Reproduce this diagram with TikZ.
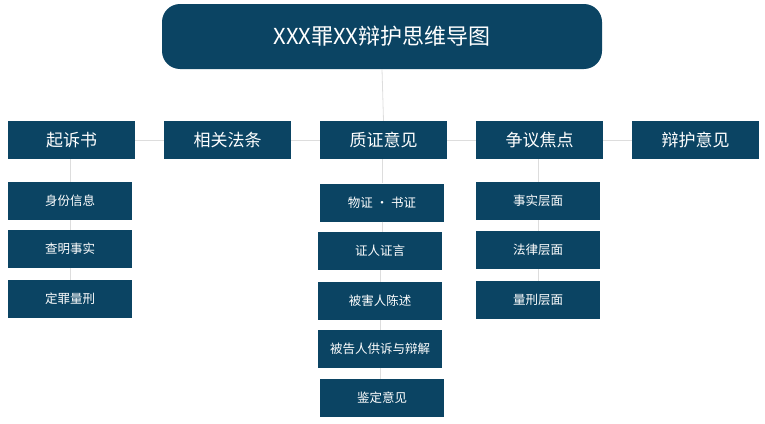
\documentclass[tikz,border=0pt]{standalone}
\usepackage{fontspec}
\setmainfont{Noto Sans CJK SC}
\begin{document}
\begin{tikzpicture}[x=1pt,y=-1pt,
  bx/.style={fill=boxc,text=white,inner sep=0pt},
  top/.style={bx,minimum width=127pt,minimum height=38pt,font=\fontsize{17}{20}\selectfont},
  sub/.style={bx,minimum width=124pt,minimum height=38pt,font=\fontsize{12.5}{15}\selectfont},
  ln/.style={draw=linec,line width=0.8pt}]
\definecolor{boxc}{HTML}{0B4463}
\definecolor{linec}{HTML}{DDDDDD}
\useasboundingbox (0,0) rectangle (765,423);
\node[bx,rounded corners=18pt,minimum width=440pt,minimum height=65pt,font=\fontsize{22}{26}\selectfont] (t) at (382,36.5) {XXX罪XX辩护思维导图};
\node[top] (a) at (71.5,140) {起诉书};
\node[top] (b) at (227.5,140) {相关法条};
\node[top] (c) at (383.5,140) {质证意见};
\node[top] (d) at (539.5,140) {争议焦点};
\node[top] (e) at (695.5,140) {辩护意见};
\node[sub] (a1) at (70,201) {身份信息};
\node[sub] (a2) at (70,249) {查明事实};
\node[sub] (a3) at (70,299) {定罪量刑};
\node[sub] (c1) at (382,202.5) {物证 · 书证};
\node[sub] (c2) at (380,251) {证人证言};
\node[sub] (c3) at (380,301) {被害人陈述};
\node[sub] (c4) at (380,349) {被告人供诉与辩解};
\node[sub] (c5) at (382,398) {鉴定意见};
\node[sub] (d1) at (538,201) {事实层面};
\node[sub] (d2) at (538,250) {法律层面};
\node[sub] (d3) at (538,300) {量刑层面};
\begin{scope}[on background layer/.style={}]
\end{scope}
\begin{pgfonlayer}{main}\end{pgfonlayer}
\draw[ln] (t.south) -- (c.north);
\draw[ln] (a.east) -- (b.west) (b.east) -- (c.west) (c.east) -- (d.west) (d.east) -- (e.west);
\draw[ln] (a.south -| a1) -- (a1.north) (a1.south) -- (a2.north) (a2.south) -- (a3.north);
\draw[ln] (c.south -| c1) -- (c1.north) (c1.south) -- (c2.north -| c1) (c2.south) -- (c3.north) (c3.south) -- (c4.north) (c4.south) -- (c5.north -| c4);
\draw[ln] (d.south -| d1) -- (d1.north) (d1.south) -- (d2.north) (d2.south) -- (d3.north);
\end{tikzpicture}
\end{document}
